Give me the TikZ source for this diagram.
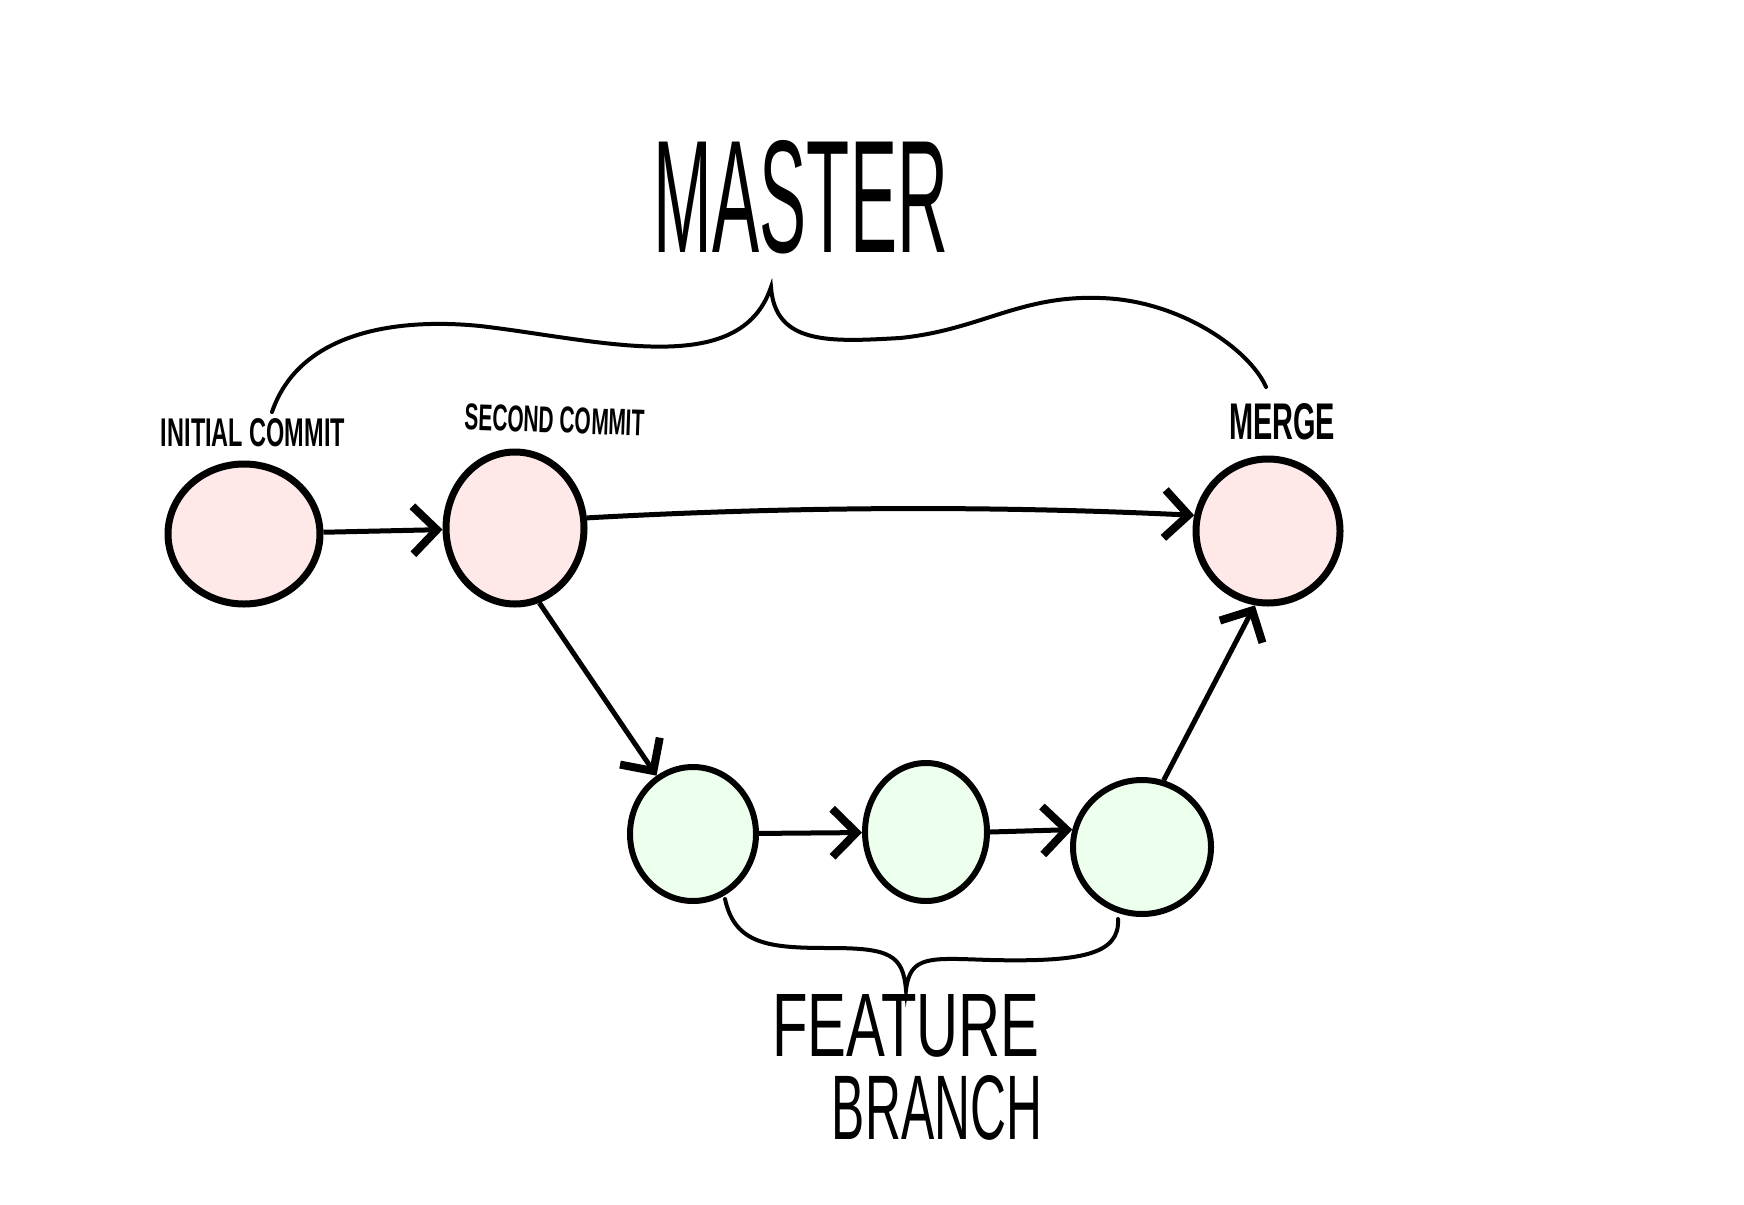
\documentclass[tikz,border=0pt]{standalone}
\usepackage{fontspec}
\setmainfont{Liberation Sans}
\usetikzlibrary{arrows.meta,shapes.geometric}
\tikzset{
  redcommit/.style={ellipse, draw=black, line width=7pt, fill=red!9, inner sep=0pt},
  greencommit/.style={ellipse, draw=black, line width=6pt, fill=green!7, inner sep=0pt},
  link/.style={line width=5pt, -{Straight Barb[length=24pt,width=48pt,line width=8pt]}},
  brace/.style={line width=4pt, line cap=round},
  lbl/.style={inner sep=0pt, text=black}
}
\begin{document}
\begin{tikzpicture}[x=1pt,y=-1pt]
\useasboundingbox[fill=white] (0,0) rectangle (1744,1204);
% commits
\node[redcommit, minimum width=152pt, minimum height=140pt] (init) at (244,534) {};
\node[redcommit, minimum width=138pt, minimum height=152pt] (second) at (515,528) {};
\node[redcommit, minimum width=144pt, minimum height=144pt] (merge) at (1268,531) {};
\node[greencommit, minimum width=126pt, minimum height=134pt] (f1) at (693,834) {};
\node[greencommit, minimum width=122pt, minimum height=138pt] (f2) at (926,832) {};
\node[greencommit, minimum width=138pt, minimum height=134pt] (f3) at (1142,847) {};
% labels
\node[lbl] (linit) at (253,433) {\resizebox{184pt}{28pt}{\bfseries INITIAL COMMIT}};
\node[lbl, rotate=-2] (lsecond) at (555,420) {\resizebox{180pt}{26pt}{\bfseries SECOND COMMIT}};
\node[lbl] (lmerge) at (1282,422) {\resizebox{106pt}{36pt}{\bfseries MERGE}};
\node[lbl] (lmaster) at (801,197) {\resizebox{294pt}{112pt}{MASTER}};
\node[lbl] (lfeature) at (906,1026) {\resizebox{267pt}{62pt}{FEATURE}};
\node[lbl] (lbranch) at (937,1108) {\resizebox{210pt}{64pt}{BRANCH}};
% links
\draw[link] (init) -- (second);
\draw[link] (second.8) .. controls (800,506) and (1000,506) .. (merge.168);
\draw[link] (second.-72) -- (f1.122);
\draw[link] (f1) -- (f2);
\draw[link] (f2.east) -- (f3.166);
\draw[link] (f3.72) -- (merge.-100);
% master brace
\coordinate (mL) at (272,412);
\coordinate (mT) at (771,287);
\coordinate (mR) at (1266,387);
\draw[brace] (mL) .. controls (300,330) and (400,318) .. (480,326)
  .. controls (600,340) and (740,380) .. (mT)
  .. controls (775,345) and (830,342) .. (900,338)
  .. controls (980,330) and (1020,295) .. (1100,298)
  .. controls (1180,300) and (1250,350) .. (mR);
% feature brace
\coordinate (fL) at (725,899);
\coordinate (fT) at (906,990);
\coordinate (fR) at (1118,919);
\draw[brace] (fL) .. controls (735,945) and (770,948) .. (830,948)
  .. controls (890,948) and (903,955) .. (fT)
  .. controls (910,955) and (930,958) .. (990,960)
  .. controls (1080,962) and (1120,955) .. (fR);
\end{tikzpicture}
\end{document}
